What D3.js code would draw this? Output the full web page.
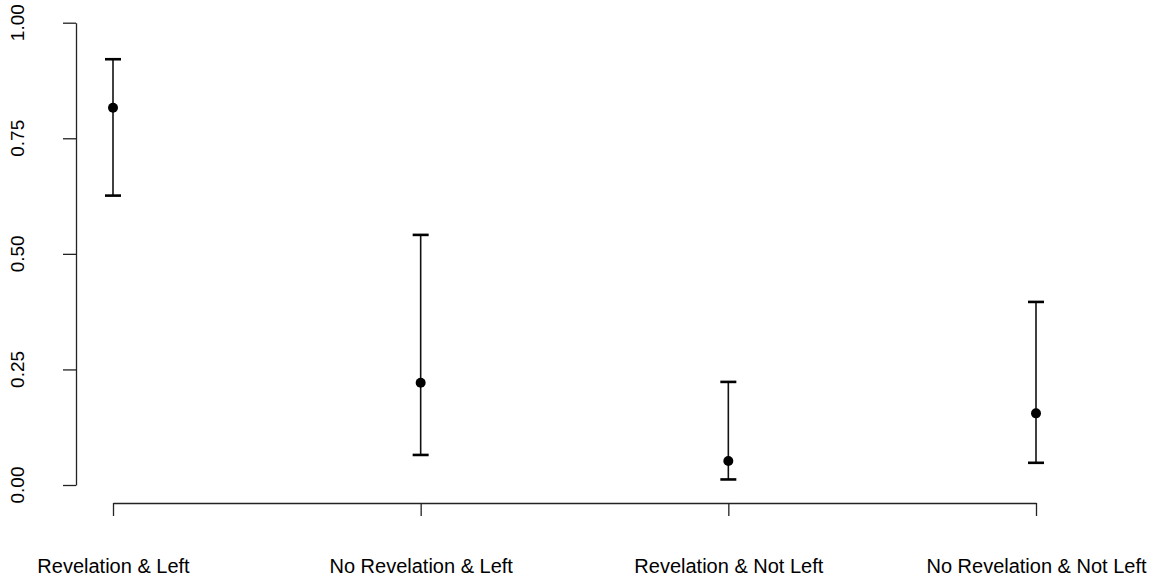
<!DOCTYPE html>
<html>
<head>
<meta charset="utf-8">
<script src="https://cdn.jsdelivr.net/npm/d3@7"></script>
<style>
  body { margin: 0; background: #fff; }
  text { font-family: "Liberation Sans", Arial, Helvetica, sans-serif; fill: #000; }
</style>
</head>
<body>
<svg id="chart" width="1151" height="577"></svg>
<script>
// groups and estimates (proportion with interval)
var categories = ["Revelation & Left", "No Revelation & Left", "Revelation & Not Left", "No Revelation & Not Left"];
var estimates = [0.816, 0.221, 0.052, 0.155];
var lower = [0.626, 0.065, 0.012, 0.048];
var upper = [0.921, 0.541, 0.223, 0.396];
var yTicks = [0, 0.25, 0.5, 0.75, 1];

var svg = d3.select("#chart");

var x = d3.scaleLinear().domain([0, 3]).range([113, 1036]);
var y = d3.scaleLinear().domain([0, 1]).range([485, 22.7]);

var data = categories.map(function(c, i) {
	return { name : c, i : i, est : estimates[i], lo : lower[i], hi : upper[i] };
});

// y axis (R style, detached)
var yAxis = svg.append("g")
	.attr("transform", "translate(76,0)")
	.call(d3.axisLeft(y).tickValues(yTicks).tickSize(13).tickSizeOuter(0)
		.tickFormat(d3.format(".2f")));
yAxis.selectAll("path, line").attr("stroke", "#222").attr("stroke-width", 1.3);
yAxis.selectAll("text").remove();

// rotated tick labels
svg.selectAll("text.ylab").data(yTicks).enter().append("text")
	.attr("class", "ylab")
	.attr("transform", function(d) {
		return "translate(24," + y(d) + ") rotate(-90)";
	})
	.attr("text-anchor", "middle")
	.style("font-size", "19px")
	.text(function(d) { return d3.format(".2f")(d); });

// x axis
var xAxis = svg.append("g")
	.attr("transform", "translate(0,503)")
	.call(d3.axisBottom(x).tickValues([0, 1, 2, 3]).tickSize(13).tickSizeOuter(0)
		.tickFormat(function(d) { return categories[d]; }));
xAxis.selectAll("path, line").attr("stroke", "#222").attr("stroke-width", 1.3);
xAxis.selectAll("text")
	.attr("y", 70)
	.attr("dy", 0)
	.style("font-size", "20px")
	.style("font-family", "'Liberation Sans', Arial, Helvetica, sans-serif")
	.attr("fill", "#000");

// error bars
var bars = svg.append("g");

bars.selectAll("line.stem").data(data).enter().append("line")
	.attr("class", "stem")
	.attr("x1", function(d) { return x(d.i); })
	.attr("x2", function(d) { return x(d.i); })
	.attr("y1", function(d) { return y(d.lo); })
	.attr("y2", function(d) { return y(d.hi); })
	.attr("stroke", "#111")
	.attr("stroke-width", 1.6);

["lo", "hi"].forEach(function(k) {
	bars.selectAll("line.cap-" + k).data(data).enter().append("line")
		.attr("class", "cap-" + k)
		.attr("x1", function(d) { return x(d.i) - 8; })
		.attr("x2", function(d) { return x(d.i) + 8; })
		.attr("y1", function(d) { return y(d[k]); })
		.attr("y2", function(d) { return y(d[k]); })
		.attr("stroke", "#000")
		.attr("stroke-width", 2.6);
});

bars.selectAll("circle").data(data).enter().append("circle")
	.attr("cx", function(d) { return x(d.i); })
	.attr("cy", function(d) { return y(d.est); })
	.attr("r", 5)
	.attr("fill", "#000");
</script>
</body>
</html>
